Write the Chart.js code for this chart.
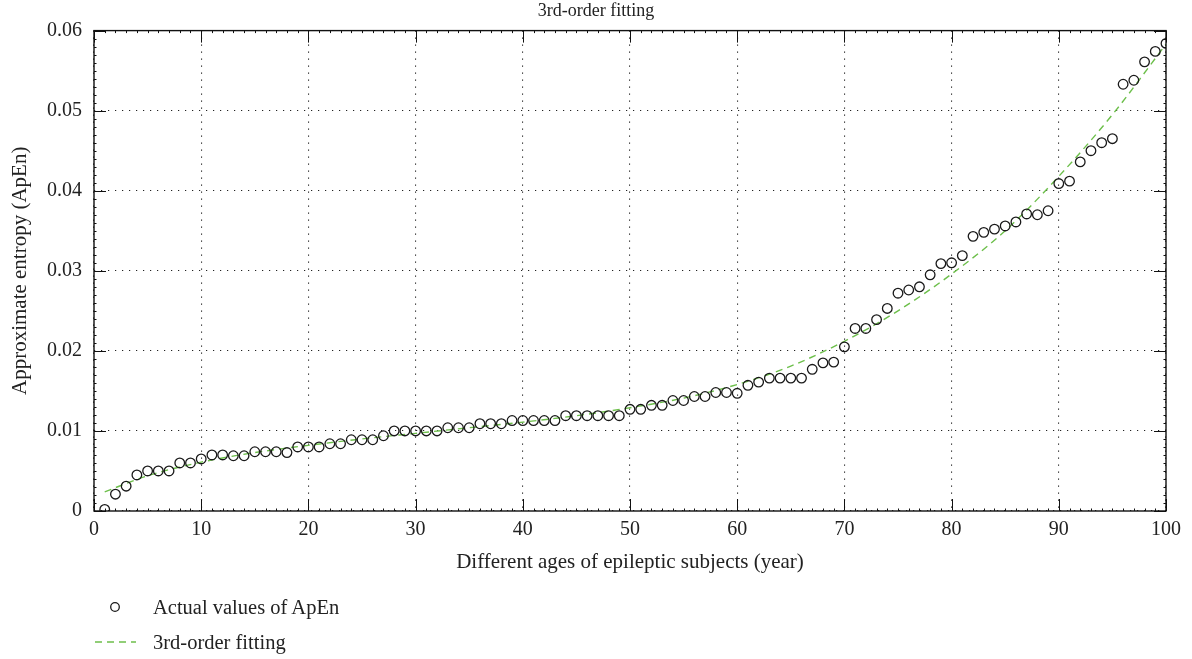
<!DOCTYPE html>
<html>
<head>
<meta charset="utf-8">
<script src="https://cdn.jsdelivr.net/npm/chart.js@4.4.1/dist/chart.umd.min.js"></script>
<style>
    html, body { margin: 0; padding: 0; background: #fff; }
    #wrap { position: relative; width: 1192px; height: 659px; }
    #chart { position: absolute; left: 0; top: 0; }
    .legend-row {
        position: absolute; left: 0; height: 24px;
        font-family: "Liberation Serif", "Times New Roman", serif;
        font-size: 20.5px; color: #222; line-height: 24px;
    }
    .legend-row svg { position: absolute; top: 0; }
    .legend-row span { position: absolute; left: 153px; top: 0; white-space: nowrap; }
</style>
</head>
<body>
<div id="wrap">
    <canvas id="chart" width="1192" height="659"></canvas>
    <div class="legend-row" style="top:595px; width:400px;">
        <svg width="140" height="24"><circle cx="115" cy="12" r="4.3" fill="none" stroke="#1a1a1a" stroke-width="1.3"/></svg>
        <span>Actual values of ApEn</span>
    </div>
    <div class="legend-row" style="top:630px; width:400px;">
        <svg width="140" height="24"><line x1="95" y1="12" x2="136" y2="12" stroke="#6dbf4b" stroke-width="1.4" stroke-dasharray="7,5"/></svg>
        <span>3rd-order fitting</span>
    </div>
</div>
<script>
// values
const ages = [
    1, 2, 3, 4, 5, 6, 7, 8, 9, 10,
    11, 12, 13, 14, 15, 16, 17, 18, 19, 20,
    21, 22, 23, 24, 25, 26, 27, 28, 29, 30,
    31, 32, 33, 34, 35, 36, 37, 38, 39, 40,
    41, 42, 43, 44, 45, 46, 47, 48, 49, 50,
    51, 52, 53, 54, 55, 56, 57, 58, 59, 60,
    61, 62, 63, 64, 65, 66, 67, 68, 69, 70,
    71, 72, 73, 74, 75, 76, 77, 78, 79, 80,
    81, 82, 83, 84, 85, 86, 87, 88, 89, 90,
    91, 92, 93, 94, 95, 96, 97, 98, 99, 100
];
const apenValues = [
    0.0002, 0.0021, 0.0031, 0.0045, 0.0050, 0.0050, 0.0050, 0.0060, 0.0060, 0.0065,
    0.0070, 0.0070, 0.0069, 0.0069, 0.0074, 0.0074, 0.0074, 0.0073, 0.0080, 0.0080,
    0.0080, 0.0084, 0.0084, 0.0089, 0.0089, 0.0089, 0.0094, 0.0100, 0.0100, 0.0100,
    0.0100, 0.0100, 0.0104, 0.0104, 0.0104, 0.0109, 0.0109, 0.0109, 0.0113, 0.0113,
    0.0113, 0.0113, 0.0113, 0.0119, 0.0119, 0.0119, 0.0119, 0.0119, 0.0119, 0.0127,
    0.0127, 0.0132, 0.0132, 0.0138, 0.0138, 0.0143, 0.0143, 0.0148, 0.0148, 0.0147,
    0.0157, 0.0161, 0.0166, 0.0166, 0.0166, 0.0166, 0.0177, 0.0185, 0.0186, 0.0205,
    0.0228, 0.0228, 0.0239, 0.0253, 0.0272, 0.0276, 0.0280, 0.0295, 0.0309, 0.0310,
    0.0319, 0.0343, 0.0348, 0.0352, 0.0356, 0.0361, 0.0371, 0.0370, 0.0375, 0.0409,
    0.0412, 0.0436, 0.0450, 0.0460, 0.0465, 0.0533, 0.0538, 0.0561, 0.0574, 0.0584
];
const fitAges = [1, 5, 10, 15, 20, 25, 30, 35, 40, 45, 50, 55, 60, 65, 70, 75, 80, 85, 90, 95, 100];
const fitValues = [
    0.0024, 0.0044, 0.0061, 0.0073, 0.0082, 0.0090, 0.0097, 0.0104, 0.0111, 0.0119, 0.0129,
    0.0141, 0.0158, 0.0181, 0.0212, 0.0250, 0.0296, 0.0350, 0.0418, 0.0495, 0.0583
];
const xTicks = [0, 10, 20, 30, 40, 50, 60, 70, 80, 90, 100];
const yTicks = [0, 0.01, 0.02, 0.03, 0.04, 0.05, 0.06];

const FONT = "'Liberation Serif', 'Times New Roman', serif";
const TEXT = '#222';

// box frame with inward major and minor ticks on all four sides
const frame = {
    id: 'frame',
    afterDatasetsDraw(chart) {
        const { ctx, chartArea: a, scales } = chart;
        const xs = scales.x, ys = scales.y;
        ctx.save();
        ctx.strokeStyle = '#111';
        ctx.lineWidth = 1;
        ctx.beginPath();
        for (let v = 0; v <= 100; v += 1) {
            const px = Math.round(xs.getPixelForValue(v)) + 0.5;
            const len = v % 10 === 0 ? 12 : 2.5;
            ctx.moveTo(px, a.bottom); ctx.lineTo(px, a.bottom - len);
            ctx.moveTo(px, a.top); ctx.lineTo(px, a.top + len);
        }
        for (let i = 0; i <= 60; i++) {
            const py = Math.round(ys.getPixelForValue(i / 1000)) + 0.5;
            const len = i % 10 === 0 ? 12 : 2.5;
            ctx.moveTo(a.left, py); ctx.lineTo(a.left + len, py);
            ctx.moveTo(a.right, py); ctx.lineTo(a.right - len, py);
        }
        ctx.stroke();
        ctx.lineWidth = 1.4;
        ctx.strokeRect(a.left, a.top, a.right - a.left, a.bottom - a.top);
        ctx.restore();
    }
};

// title is centred on the whole canvas, not on the padded box
const centreTitle = {
    id: 'centreTitle',
    afterLayout(chart) {
        const t = chart.titleBlock;
        if (t) { t.left = 0; t.right = chart.width; t.width = chart.width; }
    }
};

const ctx = document.getElementById('chart').getContext('2d');
new Chart(ctx, {
    type: 'scatter',
    data: {
        datasets: [
            {
                label: 'Actual values of ApEn',
                data: ages.map((a, i) => ({ x: a, y: apenValues[i] })),
                showLine: false,
                pointStyle: 'circle',
                pointRadius: 4.8,
                pointBorderWidth: 1.3,
                pointBackgroundColor: 'rgba(0,0,0,0)',
                pointBorderColor: '#1a1a1a',
                order: 1
            },
            {
                label: '3rd-order fitting',
                type: 'line',
                data: fitAges.map((a, i) => ({ x: a, y: fitValues[i] })),
                borderColor: '#6dbf4b',
                borderWidth: 1.4,
                borderDash: [7, 5],
                pointRadius: 0,
                cubicInterpolationMode: 'monotone',
                fill: false,
                order: 2
            }
        ]
    },
    options: {
        responsive: false,
        animation: false,
        layout: { padding: { left: 0, right: 26, top: 0, bottom: 84 } },
        plugins: {
            legend: { display: false },
            tooltip: { enabled: false },
            title: {
                display: true,
                text: '3rd-order fitting',
                color: TEXT,
                font: { family: FONT, size: 18, weight: 'normal' },
                padding: { top: 0, bottom: 9 }
            }
        },
        scales: {
            x: {
                type: 'linear',
                min: 0, max: 100,
                afterBuildTicks: s => { s.ticks = xTicks.map(v => ({ value: v })); },
                afterFit: s => { s.height = 64; },
                border: { display: false, dash: [1.2, 5.8] },
                grid: { color: '#222', lineWidth: 1.1, drawTicks: false },
                ticks: {
                    color: TEXT, padding: 7,
                    font: { family: FONT, size: 20 },
                    callback: v => String(v)
                },
                title: {
                    display: true,
                    text: 'Different ages of epileptic subjects (year)',
                    color: TEXT,
                    font: { family: FONT, size: 21 },
                    padding: { top: 0, bottom: 0 }
                }
            },
            y: {
                min: 0, max: 0.06,
                afterBuildTicks: s => { s.ticks = yTicks.map(v => ({ value: v })); },
                afterFit: s => { s.width = 94; },
                border: { display: false, dash: [1.2, 5.8] },
                grid: { color: '#222', lineWidth: 1.1, drawTicks: false },
                ticks: {
                    color: TEXT, padding: 12,
                    font: { family: FONT, size: 20 },
                    callback: v => v === 0 ? '0' : v.toFixed(2)
                },
                title: {
                    display: true,
                    text: 'Approximate entropy (ApEn)',
                    color: TEXT,
                    font: { family: FONT, size: 21 },
                    padding: { top: 8, bottom: 0 }
                }
            }
        }
    },
    plugins: [frame, centreTitle]
});
</script>
</body>
</html>
